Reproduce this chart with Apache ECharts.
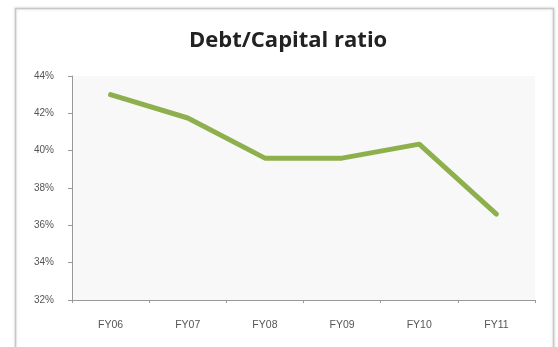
<!DOCTYPE html>
<html>
<head>
<meta charset="utf-8">
<script src="https://cdn.jsdelivr.net/npm/echarts@6/dist/echarts.min.js"></script>
<style>
html,body{margin:0;padding:0;background:#fff;}
#c{width:558px;height:347px;}
</style>
</head>
<body>
<div id="c"></div>
<script>
const categories = ['FY06','FY07','FY08','FY09','FY10','FY11'];
const ratioValues = [43.0, 41.75, 39.6, 39.6, 40.35, 36.6];
const yTicks = {min: 32, max: 44, step: 2};

const chart = echarts.init(document.getElementById('c'));
chart.setOption({
  backgroundColor: '#fff',
  animation: false,
  graphic: [{
    type: 'rect',
    shape: {x: 15.5, y: 8.5, width: 538, height: 345},
    style: {fill: '#fff', stroke: '#c8c8c8', lineWidth: 1.5, shadowColor: 'rgba(0,0,0,0.15)', shadowBlur: 3},
    z: -10
  }],
  title: {
    text: 'Debt/Capital ratio',
    left: 184,
    top: 25,
    textStyle: {fontFamily: 'Open Sans', fontWeight: 'bold', fontSize: 22, color: '#222'}
  },
  grid: {
    left: 72, right: 23, top: 76, bottom: 47,
    show: true, backgroundColor: '#f8f8f8', borderWidth: 0
  },
  xAxis: {
    type: 'category',
    data: categories,
    boundaryGap: true,
    axisLine: {lineStyle: {color: '#999', width: 1}},
    axisTick: {show: true, length: 3, lineStyle: {color: '#999'}},
    axisLabel: {color: '#555', fontSize: 10.5, fontFamily: 'Liberation Sans', margin: 20}
  },
  yAxis: {
    type: 'value',
    min: yTicks.min, max: yTicks.max, interval: yTicks.step,
    axisLine: {show: true, lineStyle: {color: '#999', width: 1}},
    axisTick: {show: true, length: 4, lineStyle: {color: '#999'}},
    splitLine: {show: false},
    axisLabel: {color: '#555', fontSize: 10, fontFamily: 'Liberation Sans', formatter: '{value}%', margin: 18}
  },
  series: [{
    type: 'line',
    data: ratioValues,
    symbol: 'none',
    lineStyle: {color: '#8eb04c', width: 5, cap: 'round', join: 'round'}
  }]
});
</script>
</body>
</html>
